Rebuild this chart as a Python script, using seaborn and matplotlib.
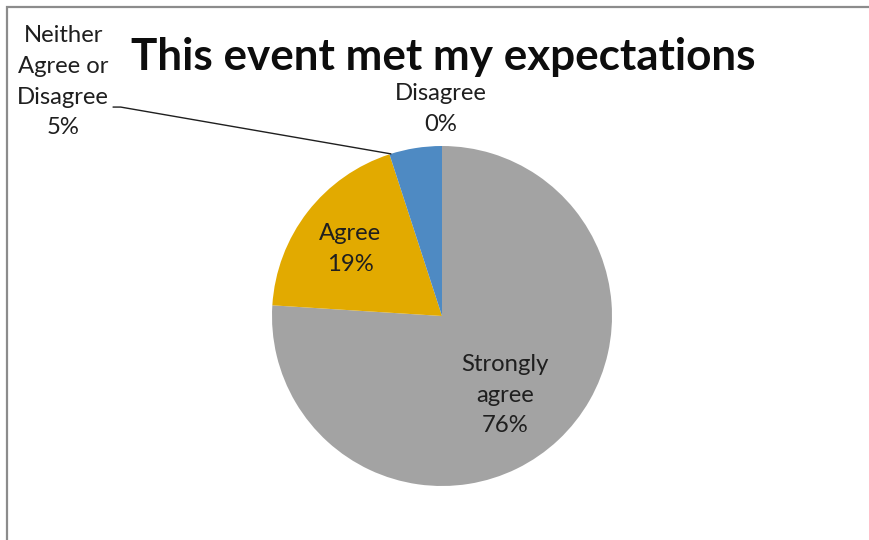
import matplotlib
matplotlib.use("Agg")
import matplotlib.pyplot as plt
from matplotlib.lines import Line2D
import numpy as np
import seaborn as sns

# Survey responses (share of respondents, %)
categories = ["Strongly agree", "Agree", "Neither Agree or Disagree", "Disagree"]
shares = [76, 19, 5, 0]
slice_colors = ["#A3A3A3", "#E2AA00", "#4E8AC3", "#5A5A5A"]
label_text = ["Strongly\nagree\n76%", "Agree\n19%", "Neither\nAgree or\nDisagree\n5%", "Disagree\n0%"]
title = "This event met my expectations"

sns.set_theme(style="white")
plt.rcParams["font.family"] = ["Lato", "DejaVu Sans"]

W, H = 869, 540
fig = plt.figure(figsize=(W / 100, H / 100), dpi=100)
fig.patch.set_facecolor("white")
fig.patch.set_edgecolor("white")

# square axes holding the pie, placed in pixel terms
cx, cy, r = 442, 316, 170
ax = fig.add_axes([(cx - r) / W, (H - cy - r) / H, 2 * r / W, 2 * r / H])
ax.set_aspect("equal")
ax.axis("off")

palette = sns.color_palette(slice_colors)
wedges, _ = ax.pie(shares, colors=palette, startangle=90, counterclock=False,
                   radius=1.0, wedgeprops=dict(linewidth=0))
ax.set_xlim(-1, 1)
ax.set_ylim(-1, 1)

txt_kw = dict(ha="center", va="center", fontsize=17.2, color="#1f1f1f",
              linespacing=1.58)

# inside labels
ax.text(0.37, -0.465, label_text[0], **txt_kw)
ax.text(-0.54, 0.394, label_text[1], **txt_kw)
# outside labels
ax.text(-0.006, 1.218, label_text[3], **txt_kw)
ax.text(-2.229, 1.379, label_text[2], **txt_kw)

# leader line from the neutral label to its slice edge
w = wedges[2]
ang = np.deg2rad(w.theta2 - 0.5)
ex, ey = np.cos(ang), np.sin(ang)
ax.add_line(Line2D([-1.935, -1.89, ex], [1.229, 1.229, ey], color="#1f1f1f",
                   lw=1.0, clip_on=False))

fig.text(443 / W, 1 - 57 / H, title, ha="center", va="center",
         fontsize=31.7, fontweight="bold", color="#0d0d0d")

# chart area border: only the left and top edges fall inside the image
fig.add_artist(Line2D([7 / W, 7 / W, 1.05], [-0.05, 1 - 7 / H, 1 - 7 / H],
                      color="#8c8c8c", lw=1.6, solid_joinstyle="miter"))

fig.savefig("out.png", dpi=100, facecolor="white", edgecolor="white")
